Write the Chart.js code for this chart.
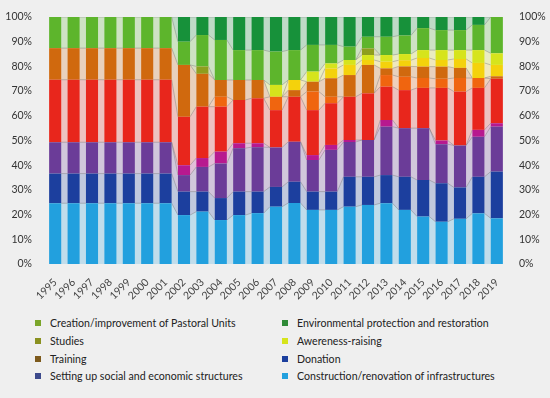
<!DOCTYPE html>
<html lang="en">
<head>
  <meta charset="UTF-8" />
  <title>Interventions by type, 1995-2019</title>
  <script src="https://cdn.jsdelivr.net/npm/chart.js"></script>
  <style>
    html, body {
      margin: 0;
      padding: 0;
      background: #efefef;
    }
    body {
      width: 550px;
      height: 398px;
      position: relative;
      overflow: hidden;
      font-family: Lato, "Open Sans", sans-serif;
    }
    #chartBox {
      position: absolute;
      left: 0;
      top: 0;
      width: 550px;
      height: 312px;
    }
    #legend .item {
      position: absolute;
      font-size: 10.6px;
      line-height: 12px;
      color: #222;
      white-space: nowrap;
    }
    #legend .swatch {
      display: inline-block;
      width: 6px;
      height: 6px;
      margin-right: 9px;
      vertical-align: 1px;
    }
  </style>
</head>
<body>

  <div id="chartBox"><canvas id="mixChart"></canvas></div>
  <div id="legend"></div>

  <script>
    // ==== DATA (percent of total per year, bottom of stack first) ====
    const years = ['1995', '1996', '1997', '1998', '1999', '2000', '2001', '2002', '2003', '2004',
                   '2005', '2006', '2007', '2008', '2009', '2010', '2011', '2012', '2013', '2014',
                   '2015', '2016', '2017', '2018', '2019'];

    const construction = [24.6, 24.6, 24.6, 24.6, 24.6, 24.6, 24.6, 19.8, 21.2, 17.8, 19.8, 20.6, 23.2, 24.7, 21.9, 21.9, 23.2, 23.9, 24.6, 21.9, 19.2, 17.1, 18.3, 20.5, 18.5];
    const donation     = [12.0, 12.0, 12.0, 12.0, 12.0, 12.0, 12.0, 9.5, 8.1, 8.9, 9.5, 8.7, 8.0, 8.6, 7.4, 7.4, 12.1, 11.4, 11.4, 13.4, 14.8, 15.6, 12.7, 14.8, 18.9];
    const settingUp    = [12.7, 12.7, 12.7, 12.7, 12.7, 12.7, 12.7, 6.7, 10.0, 14.0, 17.6, 18.0, 16.0, 16.2, 12.8, 16.9, 14.1, 14.9, 19.6, 19.7, 21.0, 15.8, 17.0, 16.2, 18.2];
    const otherPink    = [0, 0, 0, 0, 0, 0, 0, 4.0, 3.6, 4.8, 2.0, 1.6, 0, 0, 2.0, 2.0, 0.8, 0, 2.7, 0, 0, 1.5, 0, 2.8, 1.4];
    const otherRed     = [25.3, 25.3, 25.3, 25.3, 25.3, 25.3, 25.3, 19.6, 20.8, 18.2, 17.5, 18.2, 15.1, 18.2, 18.2, 16.9, 17.5, 18.9, 13.5, 15.4, 16.3, 21.3, 21.8, 17.0, 18.0];
    const otherOrange  = [0, 0, 0, 0, 0, 0, 0, 0, 0, 4.0, 0, 0, 5.4, 0, 7.5, 2.6, 0, 0, 4.7, 5.4, 4.0, 3.7, 5.5, 4.0, 0];
    const training     = [12.8, 12.8, 12.8, 12.8, 12.8, 12.8, 12.8, 21.0, 13.3, 6.8, 8.1, 7.4, 0, 2.7, 4.0, 7.5, 8.8, 11.5, 2.7, 4.2, 4.6, 4.9, 4.1, 0, 1.0];
    const otherGold    = [0, 0, 0, 0, 0, 0, 0, 0, 0, 0, 0, 0, 0, 4.1, 0, 4.0, 4.1, 2.0, 2.7, 2.5, 3.5, 2.7, 3.6, 6.1, 4.6];
    const awareness    = [0, 0, 0, 0, 0, 0, 0, 0, 0, 0, 0, 0, 4.8, 0, 4.1, 2.0, 2.0, 2.0, 2.7, 2.5, 3.2, 4.0, 3.6, 5.2, 4.7];
    const studies      = [0, 0, 0, 0, 0, 0, 0, 0, 3.0, 0, 0, 0, 0, 0, 0, 0, 0, 2.7, 0, 0, 0, 0, 0, 0, 0];
    const pastoral     = [12.6, 12.6, 12.6, 12.6, 12.6, 12.6, 12.6, 9.4, 12.7, 16.2, 12.1, 12.1, 13.5, 12.1, 10.8, 7.5, 5.4, 4.7, 7.4, 7.5, 8.9, 8.1, 8.1, 10.2, 14.7];
    const environment  = [0, 0, 0, 0, 0, 0, 0, 10.0, 7.3, 9.3, 13.4, 13.4, 14.0, 13.4, 11.3, 11.3, 12.0, 8.0, 8.0, 7.5, 4.5, 5.3, 5.3, 3.2, 0];

    const yTicks = [0, 10, 20, 30, 40, 50, 60, 70, 80, 90, 100];

    // ==== SERIES (stack order) ====
    const series = [
      { label: 'Construction/renovation of infrastructures', data: construction, color: '#22a0de' },
      { label: 'Donation', data: donation, color: '#1c3f9e' },
      { label: 'Setting up social and economic structures', data: settingUp, color: '#6b3c98', key: '#3d4a8c' },
      { label: 'Other (pink)', data: otherPink, color: '#b7198f' },
      { label: 'Other (red)', data: otherRed, color: '#e8261c' },
      { label: 'Other (orange)', data: otherOrange, color: '#f0650f' },
      { label: 'Training', data: training, color: '#d0690e', key: '#7d5a1c' },
      { label: 'Other (gold)', data: otherGold, color: '#f4d20c' },
      { label: 'Awereness-raising', data: awareness, color: '#d6e41c' },
      { label: 'Studies', data: studies, color: '#8e9e1e', key: '#8a9120' },
      { label: 'Creation/improvement of Pastoral Units', data: pastoral, color: '#5db52c', key: '#7aa52a' },
      { label: 'Environmental protection and restoration', data: environment, color: '#17913a', key: '#2f8a37' }
    ];

    // Legend layout: two columns, as in the original figure
    const legendLeft = ['Creation/improvement of Pastoral Units', 'Studies', 'Training', 'Setting up social and economic structures'];
    const legendRight = ['Environmental protection and restoration', 'Awereness-raising', 'Donation', 'Construction/renovation of infrastructures'];

    // Helper: hex -> rgba
    function fade(hex, a) {
      const n = parseInt(hex.slice(1), 16);
      return `rgba(${(n >> 16) & 255}, ${(n >> 8) & 255}, ${n & 255}, ${a})`;
    }

    // ==== PLUGIN: pale bands joining neighbouring bars ====
    const connectorPlugin = {
      id: 'connectors',
      beforeDatasetsDraw(chart) {
        const ctx = chart.ctx;
        const area = chart.chartArea;
        ctx.save();
        ctx.beginPath();
        ctx.rect(area.left, area.top, area.right - area.left, area.bottom - area.top);
        ctx.clip();

        chart.data.datasets.forEach((ds, i) => {
          const bars = chart.getDatasetMeta(i).data;
          ctx.fillStyle = fade(ds.backgroundColor, 0.22);
          for (let j = 0; j < bars.length - 1; j++) {
            const a = bars[j], b = bars[j + 1];
            const ax = a.x + a.width / 2, bx = b.x - b.width / 2;
            ctx.beginPath();
            ctx.moveTo(ax, a.y);
            ctx.lineTo(bx, b.y);
            ctx.lineTo(bx, b.base);
            ctx.lineTo(ax, a.base);
            ctx.closePath();
            ctx.fill();
          }
        });

        // thin grey boundary lines
        ctx.strokeStyle = 'rgba(120, 120, 120, 0.55)';
        ctx.lineWidth = 0.8;
        chart.data.datasets.forEach((ds, i) => {
          const bars = chart.getDatasetMeta(i).data;
          for (let j = 0; j < bars.length - 1; j++) {
            const a = bars[j], b = bars[j + 1];
            if (Math.abs(a.y - a.base) < 0.5 && Math.abs(b.y - b.base) < 0.5) continue;
            ctx.beginPath();
            ctx.moveTo(a.x + a.width / 2, a.y);
            ctx.lineTo(b.x - b.width / 2, b.y);
            ctx.stroke();
          }
        });
        ctx.restore();
      }
    };

    const tickFont = { family: 'Lato, "Open Sans", sans-serif', size: 10.5 };

    const chart = new Chart(document.getElementById('mixChart'), {
      type: 'bar',
      data: {
        labels: years,
        datasets: series.map(s => ({
          label: s.label,
          data: s.data,
          backgroundColor: s.color,
          borderWidth: 0,
          barPercentage: 0.66,
          categoryPercentage: 1
        }))
      },
      options: {
        responsive: true,
        maintainAspectRatio: false,
        animation: false,
        layout: { padding: { top: 17, left: 0, right: 0, bottom: 0 } },
        plugins: {
          legend: { display: false },
          tooltip: { enabled: false }
        },
        scales: {
          x: {
            stacked: true,
            grid: { display: false },
            border: { display: false },
            ticks: {
              autoSkip: false,
              minRotation: 45,
              maxRotation: 45,
              padding: 4,
              color: '#444',
              font: tickFont
            },
            afterFit(scale) { scale.height = 48; }
          },
          y: {
            stacked: true,
            min: 0,
            max: 100,
            position: 'left',
            grid: { display: false },
            border: { display: false },
            afterBuildTicks(scale) { scale.ticks = yTicks.map(v => ({ value: v })); },
            ticks: {
              padding: 6,
              color: '#333',
              font: tickFont,
              callback: v => v + '%'
            },
            afterFit(scale) { scale.width = 46; }
          },
          y2: {
            min: 0,
            max: 100,
            position: 'right',
            grid: { display: false },
            border: { display: false },
            afterBuildTicks(scale) { scale.ticks = yTicks.map(v => ({ value: v })); },
            ticks: {
              padding: 5,
              color: '#333',
              font: tickFont,
              callback: v => v + '%'
            },
            afterFit(scale) { scale.width = 44; }
          }
        }
      },
      plugins: [connectorPlugin]
    });

    // ==== HTML LEGEND ====
    const legendBox = document.getElementById('legend');
    function addLegend(names, x) {
      names.forEach((name, row) => {
        const s = series.find(d => d.label === name);
        const item = document.createElement('div');
        item.className = 'item';
        item.style.left = x + 'px';
        item.style.top = (317 + row * 17.8) + 'px';
        item.innerHTML = `<span class="swatch" style="background:${s.key || s.color}"></span>${name}`;
        legendBox.appendChild(item);
      });
    }
    addLegend(legendLeft, 35);
    addLegend(legendRight, 282);
  </script>

</body>
</html>
